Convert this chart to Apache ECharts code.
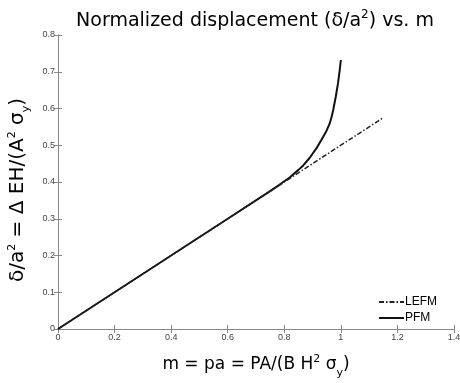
<!DOCTYPE html>
<html><head><meta charset="utf-8">
<script src="https://cdn.jsdelivr.net/npm/echarts@6/dist/echarts.min.js"></script>
<style>html,body{margin:0;padding:0;background:#fff}#c{width:460px;height:383px}</style>
</head><body><div id="c"></div>
<script>
const xTicks = [0, 0.2, 0.4, 0.6, 0.8, 1, 1.2, 1.4];
const yTicks = [0, 0.1, 0.2, 0.3, 0.4, 0.5, 0.6, 0.7, 0.8];
const lefmM = [0, 1.15];
const lefmD = [0, 0.575];
const pfmM = [0, 0.2, 0.4, 0.6, 0.75, 0.78, 0.82, 0.85, 0.867, 0.89, 0.914, 0.93, 0.949, 0.96, 0.967, 0.973, 0.982, 0.99, 0.995, 1.0];
const pfmD = [0, 0.1, 0.2, 0.3, 0.375, 0.391, 0.413, 0.433, 0.445, 0.466, 0.492, 0.513, 0.539, 0.558, 0.576, 0.596, 0.632, 0.669, 0.698, 0.732];
const legendNames = ['LEFM', 'PFM'];

const chart = echarts.init(document.getElementById('c'));
const font = 'Liberation Sans, Arial, sans-serif';
const wfont = 'DejaVu Sans, sans-serif';
const axisCol = '#888';
const baseAxis = {
  axisLine: {show: true, lineStyle: {color: axisCol, width: 1}},
  axisTick: {show: true, inside: true, length: 4, lineStyle: {color: axisCol}},
  splitLine: {show: false},
};
function nameRich(sz) {
  return {
    n: {fontFamily: wfont, fontSize: sz, color: '#000', lineHeight: 22, verticalAlign: 'middle'},
    s: {fontFamily: wfont, fontSize: 11, color: '#000', lineHeight: 22, verticalAlign: 'top'},
    b: {fontFamily: wfont, fontSize: 11, color: '#000', lineHeight: 22, verticalAlign: 'bottom', padding: [0, 0, -3, 0]},
    g: {width: 16, lineHeight: 22}
  };
}
chart.setOption({
  animation: false,
  title: {
    text: '{n|Normalized displacement (δ/a}{s|2}{n|) vs. m}',
    left: 250, top: 4, textAlign: 'center',
    textStyle: {
      fontWeight: 'normal',
      rich: {
        n: {fontFamily: wfont, fontSize: 19, fontWeight: 'normal', color: '#000', lineHeight: 22, verticalAlign: 'bottom'},
        s: {fontFamily: wfont, fontSize: 12, fontWeight: 'normal', color: '#000', lineHeight: 22, verticalAlign: 'top'}
      }
    }
  },
  grid: {left: 58, right: 6, top: 35, bottom: 54, containLabel: false, outerBoundsMode: 'none'},
  legend: {
    data: legendNames, orient: 'vertical', right: 18, top: 291,
    itemWidth: 25, itemHeight: 8, itemGap: 4,
    itemStyle: {opacity: 0},
    textStyle: {fontFamily: font, fontSize: 12, color: '#000', padding: [0, 0, 0, -4]}
  },
  xAxis: [
    Object.assign({}, baseAxis, {
      type: 'value', min: xTicks[0], max: xTicks[xTicks.length - 1], interval: 0.2,
      axisLabel: {fontFamily: font, fontSize: 9, color: '#444', margin: 4},
      name: '{n|m = pa = PA/(B H}{s|2}{n| σ}{b|y}{n|)}',
      nameLocation: 'middle', nameGap: 25,
      nameTextStyle: {rich: nameRich(17)}
    }),
    Object.assign({}, baseAxis, {
      type: 'value', position: 'top', min: 0, max: 1.4, interval: 0.2,
      axisLabel: {show: false}
    })
  ],
  yAxis: [
    Object.assign({}, baseAxis, {
      type: 'value', min: yTicks[0], max: yTicks[yTicks.length - 1], interval: 0.1,
      axisLabel: {fontFamily: font, fontSize: 9, color: '#444', margin: 3},
      name: '{n|δ/a}{s|2}{n| = Δ EH/(A}{s|2}{n| σ}{b|y}{n|)}{g|}',
      nameLocation: 'middle', nameGap: 15, nameRotate: 90,
      nameTextStyle: {rich: nameRich(20)}
    }),
    Object.assign({}, baseAxis, {
      type: 'value', position: 'right', min: 0, max: 0.8, interval: 0.1,
      axisLabel: {show: false}
    })
  ],
  series: [
    {
      name: legendNames[0], type: 'line', symbol: 'none', z: 3,
      data: lefmM.map((m, i) => [m, lefmD[i]]),
      lineStyle: {color: '#222', width: 1.5, type: [5, 2, 1.5, 2]},
      itemStyle: {color: '#222'}
    },
    {
      name: legendNames[1], type: 'line', symbol: 'none', z: 2,
      data: pfmM.map((m, i) => [m, pfmD[i]]),
      lineStyle: {color: '#111', width: 2},
      itemStyle: {color: '#111'}
    }
  ]
});
</script></body></html>
